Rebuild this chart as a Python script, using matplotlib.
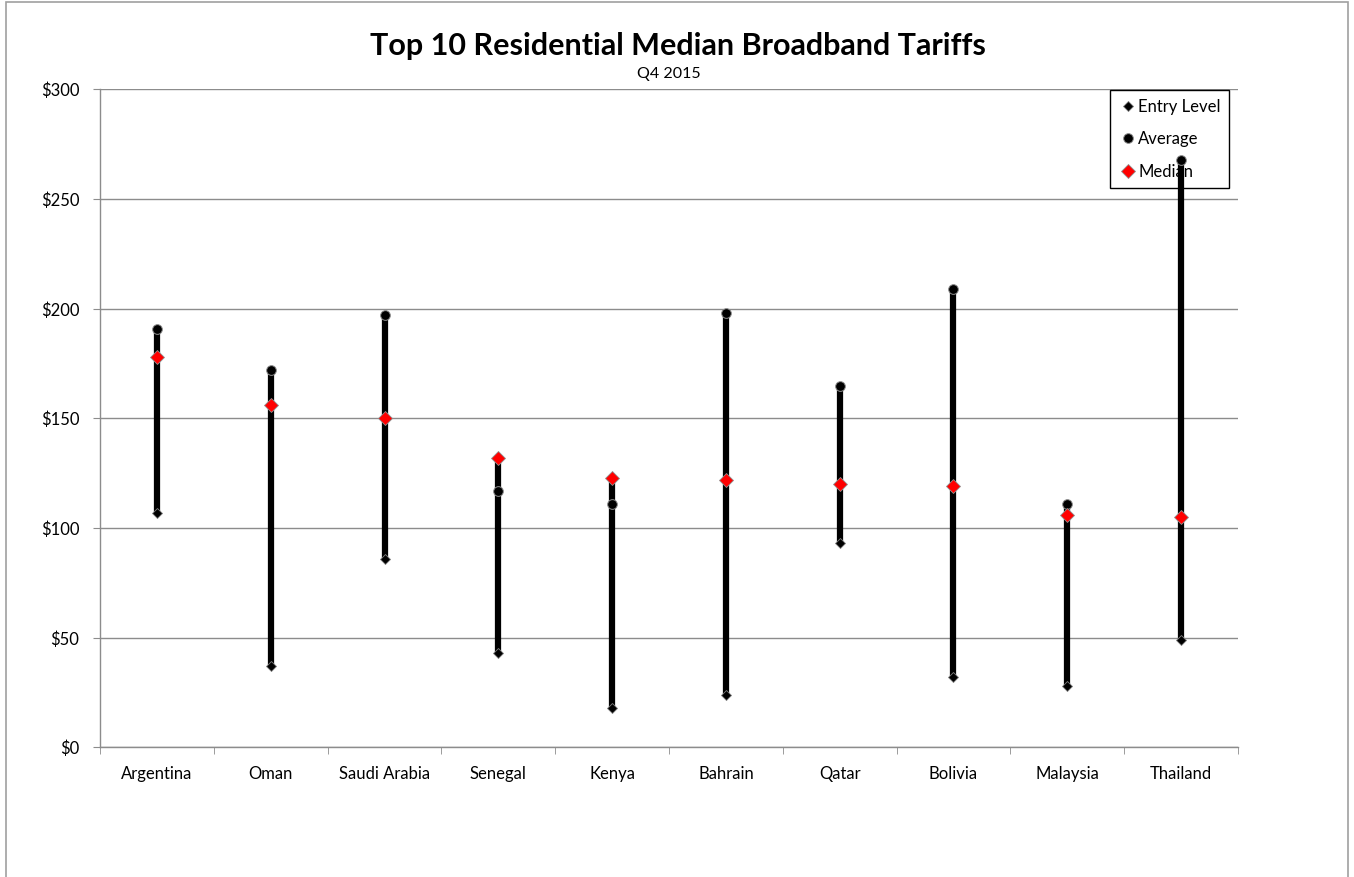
import matplotlib.pyplot as plt
from matplotlib.patches import Rectangle
from matplotlib.ticker import FuncFormatter, FixedLocator

# Datos del grafico
paises = ['Argentina', 'Oman', 'Saudi Arabia', 'Senegal', 'Kenya',
          'Bahrain', 'Qatar', 'Bolivia', 'Malaysia', 'Thailand']
entry_level = [107, 37, 86, 43, 18, 24, 93, 32, 28, 49]
average = [191, 172, 197, 117, 111, 198, 165, 209, 111, 268]
median = [178, 156, 150, 132, 123, 122, 120, 119, 106, 105]

plt.rcParams['font.family'] = ['Lato', 'DejaVu Sans']

fig = plt.figure(figsize=(13.54, 8.77), dpi=100)
ax = fig.add_axes([0.0739, 0.1477, 0.8404, 0.7503])

# marco exterior del grafico
fig.patches.append(Rectangle((6 / 1354, -0.01), 1342 / 1354, 1 - 2 / 877 + 0.01,
                             transform=fig.transFigure, fill=False,
                             edgecolor='#a0a0a0', linewidth=1.2))

x = list(range(len(paises)))
tope = [max(a, m) for a, m in zip(average, median)]

# lineas verticales
ax.vlines(x, entry_level, tope, colors='black', linewidth=4.5, zorder=3)

ax.plot(x, entry_level, linestyle='none', marker='D', markersize=5,
        color='black', markeredgecolor='#808080', markeredgewidth=0.6,
        label='Entry Level', zorder=4)
ax.plot(x, average, linestyle='none', marker='o', markersize=7,
        color='black', markeredgecolor='#909090', markeredgewidth=0.7,
        label='Average', zorder=4)
ax.plot(x, median, linestyle='none', marker='D', markersize=7,
        color='#ff0000', markeredgecolor='#909090', markeredgewidth=0.6,
        label='Median', zorder=5)

# ejes
ax.set_xlim(-0.5, len(paises) - 0.5)
ax.set_ylim(0, 300)
ax.set_yticks(range(0, 301, 50))
ax.yaxis.set_major_formatter(FuncFormatter(lambda v, p: f'${v:.0f}'))
ax.yaxis.grid(True, color='#8c8c8c', linewidth=1)
ax.set_axisbelow(True)

ax.set_xticks(x)
ax.set_xticklabels(paises)
ax.tick_params(axis='x', which='major', length=0, pad=13, labelsize=12)
ax.xaxis.set_minor_locator(FixedLocator([i - 0.5 for i in range(len(paises) + 1)]))
ax.tick_params(axis='x', which='minor', length=5, color='#8c8c8c', direction='out')
ax.tick_params(axis='y', length=5, color='#8c8c8c', direction='out', pad=10, labelsize=12)

for lado in ['top', 'right']:
    ax.spines[lado].set_visible(False)
for lado in ['left', 'bottom']:
    ax.spines[lado].set_color('#8c8c8c')
    ax.spines[lado].set_linewidth(1)

# titulos
fig.text(0.5005, 0.948, 'Top 10 Residential Median Broadband Tariffs',
         ha='center', va='center', fontsize=22, fontweight='bold')
fig.text(0.494, 0.916, 'Q4 2015', ha='center', va='center', fontsize=11.5)

leg = ax.legend(loc='upper right', bbox_to_anchor=(0.993, 1.0), frameon=True,
                fancybox=False, edgecolor='black', framealpha=1,
                fontsize=12, labelspacing=1.0, handletextpad=0.0,
                handlelength=1.2, borderpad=0.5, borderaxespad=0.05)
leg.get_frame().set_linewidth(1)
leg.set_zorder(2.5)

fig.savefig('out.png', dpi=100)
